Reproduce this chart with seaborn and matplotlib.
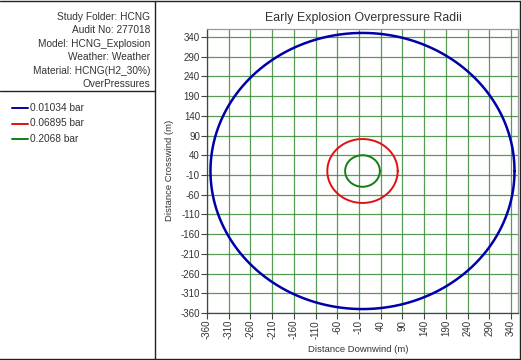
import numpy as np
import pandas as pd
import matplotlib
matplotlib.use("Agg")
import matplotlib.pyplot as plt
import seaborn as sns
from matplotlib.lines import Line2D

# ---- data ----
series_labels = ["0.01034 bar", "0.06895 bar", "0.2068 bar"]
radii = [350, 81, 40]
center_x = [-2, -2, -2]
center_y = [0, 0, 0]
colors = ["#0000a8", "#e01010", "#108010"]
tick_values = list(range(-360, 341, 50))
info_lines = ["Study Folder: HCNG", "Audit No: 277018", "Model: HCNG_Explosion",
              "Weather: Weather", "Material: HCNG(H2_30%)", "OverPressures"]
title = "Early Explosion Overpressure Radii"
xlabel = "Distance Downwind (m)"
ylabel = "Distance Crosswind (m)"

# build outline table from radii
theta = np.linspace(0, 2 * np.pi, 181)
rows = []
for lab, r, cx, cy in zip(series_labels, radii, center_x, center_y):
    for t in theta:
        rows.append((lab, cx + r * np.cos(t), cy + r * np.sin(t)))
df = pd.DataFrame(rows, columns=["series", "x", "y"])

sns.set_theme(style="white")
plt.rcParams["font.family"] = ["Liberation Sans", "DejaVu Sans"]
plt.rcParams["axes.unicode_minus"] = False

W, H = 521, 360
fig = plt.figure(figsize=(W / 100, H / 100), dpi=100)

def fx(px):
    return px / W

def fy(py):
    return 1 - py / H

ax = fig.add_axes([fx(207), fy(313), fx(518) - fx(207), fy(29) - fy(313)])

widths = [1.8, 1.4, 1.4]
for lab, c, lw in zip(series_labels, colors, widths):
    sns.lineplot(data=df[df.series == lab], x="x", y="y", sort=False, estimator=None,
                 color=c, lw=lw, ax=ax, legend=False)

ax.set_xlim(-360, 356)
ax.set_ylim(-360, 360)
ax.set_xticks(tick_values)
ax.set_yticks(tick_values)
ax.set_xticklabels([str(v) for v in tick_values], rotation=90)
ax.grid(True, color="#3a8a3a", lw=0.9, alpha=0.85)
ax.set_axisbelow(True)
ax.tick_params(axis="both", which="both", direction="out", length=4, width=0.8,
               colors="#444444", labelsize=7, pad=1, bottom=True, left=True)
ax.tick_params(axis="both", labelcolor="#333333")
for s in ["left", "bottom"]:
    ax.spines[s].set_color("#444444")
    ax.spines[s].set_linewidth(0.9)
for s in ["top", "right"]:
    ax.spines[s].set_color("#999999")
    ax.spines[s].set_linewidth(0.9)
ax.set_xlabel("")
ax.set_ylabel("")

tc = "#333333"
fig.text(fx(363), fy(18), title, ha="center", va="center", fontsize=8.9, color=tc)
fig.text(fx(358), fy(350), xlabel, ha="center", va="center", fontsize=6.8, color=tc)
fig.text(fx(170), fy(170), ylabel, ha="center", va="center", rotation=90, fontsize=6.8,
         color=tc)

# info panel
for i, line in enumerate(info_lines):
    fig.text(fx(150), fy(17 + i * 13.4), line, ha="right", va="center", fontsize=7.3,
             color=tc)

# legend panel
for i, (lab, c) in enumerate(zip(series_labels, colors)):
    yy = fy(108 + i * 15.5)
    fig.add_artist(Line2D([fx(12), fx(28)], [yy, yy], color=c, lw=1.4))
    fig.text(fx(30), yy, lab, ha="left", va="center", fontsize=7.3, color=tc)

# frames
kw = dict(color="#222222", lw=1.0)
fig.add_artist(Line2D([0, 1], [fy(1), fy(1)], **kw))
fig.add_artist(Line2D([0, 1], [fy(359), fy(359)], **kw))
fig.add_artist(Line2D([fx(155), fx(155)], [fy(1), fy(359)], **kw))
fig.add_artist(Line2D([0, fx(155)], [fy(91), fy(91)], **kw))
fig.add_artist(Line2D([fx(520), fx(520)], [fy(1), fy(359)], **kw))

fig.savefig("out.png", dpi=100)
